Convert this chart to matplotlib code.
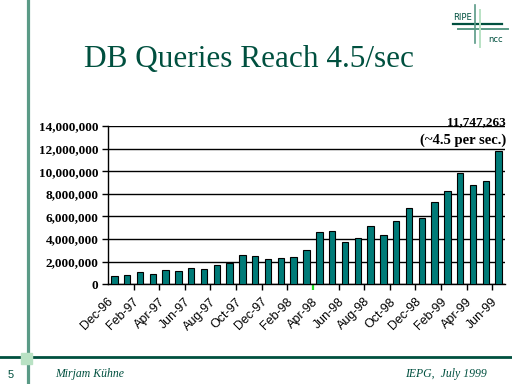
import matplotlib
matplotlib.use("Agg")
import matplotlib.pyplot as plt
import matplotlib.transforms as mtransforms
import numpy as np
from matplotlib.ticker import FuncFormatter, FixedLocator

months = ["Dec-96", "Jan-97", "Feb-97", "Mar-97", "Apr-97", "May-97", "Jun-97", "Jul-97",
          "Aug-97", "Sep-97", "Oct-97", "Nov-97", "Dec-97", "Jan-98", "Feb-98", "Mar-98",
          "Apr-98", "May-98", "Jun-98", "Jul-98", "Aug-98", "Sep-98", "Oct-98", "Nov-98",
          "Dec-98", "Jan-99", "Feb-99", "Mar-99", "Apr-99", "May-99", "Jun-99"]
queries = [730000, 820000, 1060000, 910000, 1240000, 1180000, 1440000, 1350000,
           1710000, 1880000, 2570000, 2500000, 2200000, 2290000, 2410000, 3000000,
           4590000, 4680000, 3710000, 4090000, 5120000, 4320000, 5560000, 6710000,
           5820000, 7240000, 8240000, 9880000, 8740000, 9180000, 11747263]
yticks = [0, 2000000, 4000000, 6000000, 8000000, 10000000, 12000000, 14000000]

title = "DB Queries Reach 4.5/sec"
note1 = "11,747,263"
note2 = "(~4.5 per sec.)"

DARK = "#00503F"
MID = "#5A9A86"
LIGHT = "#B9E2C4"
BAR = "#007B78"

fig = plt.figure(figsize=(5.12, 3.84), dpi=100)
W, H = 512, 384

def fx(x):
    return x / W

def fy(y):
    return 1 - y / H

# slide decorations
fig.add_artist(plt.Line2D([fx(28.4), fx(28.4)], [0, 1], color=MID, lw=2.3, transform=fig.transFigure))
fig.add_artist(plt.Line2D([0, 1], [fy(357.3), fy(357.3)], color=DARK, lw=2.0, transform=fig.transFigure))
fig.add_artist(plt.Rectangle((fx(21), fy(364)), 11 / W, 11 / H, color=LIGHT, transform=fig.transFigure, zorder=5))

# logo
fig.add_artist(plt.Line2D([fx(453), fx(502)], [fy(24.3), fy(24.3)], color=DARK, lw=1.6, transform=fig.transFigure))
fig.add_artist(plt.Line2D([fx(458), fx(508)], [fy(29.2), fy(29.2)], color=MID, lw=1.4, transform=fig.transFigure))
fig.add_artist(plt.Line2D([fx(475), fx(475)], [fy(5), fy(43)], color=MID, lw=1.2, transform=fig.transFigure))
fig.add_artist(plt.Line2D([fx(480.2), fx(480.2)], [fy(10), fy(47)], color=LIGHT, lw=1.4, transform=fig.transFigure))
fig.text(fx(453), fy(19.5), "RIPE", fontsize=6, color=DARK, family="DejaVu Sans", va="baseline", ha="left")
fig.text(fx(488), fy(41.5), "ncc", fontsize=6, color=DARK, family="DejaVu Sans", va="baseline", ha="left")

# title
fig.text(fx(249.5), fy(67), title, fontsize=22.5, color=DARK, family="Liberation Serif",
         ha="center", va="baseline")

# footer
fig.text(fx(8), fy(377.5), "5", fontsize=8, color=DARK, family="Liberation Sans", ha="left", va="baseline")
fig.text(fx(55), fy(377.5), "Mirjam Kühne", fontsize=8.5, color=DARK, family="Liberation Serif",
         style="italic", ha="left", va="baseline")
fig.text(fx(487), fy(377.5), "IEPG,  July 1999", fontsize=8.5, color=DARK, family="Liberation Serif",
         style="italic", ha="right", va="baseline")

# chart
ax = fig.add_axes([fx(108), fy(284.3), (505 - 108) / W, (284.3 - 126) / H])
x = np.arange(len(months))
ax.bar(x, queries, width=0.5, color=BAR, edgecolor="black", linewidth=0.8, zorder=3)
ax.set_xlim(-0.5, len(months) - 0.5)
ax.set_ylim(0, 14000000)
ax.set_yticks(yticks)
ax.yaxis.set_major_formatter(FuncFormatter(lambda v, p: f"{int(v):,}"))
for lbl in ax.get_yticklabels():
    lbl.set_family("Liberation Serif")
    lbl.set_fontweight("bold")
    lbl.set_fontsize(9.5)
ax.yaxis.grid(True, color="black", lw=1.0, zorder=1)
ax.set_axisbelow(True)
ax.tick_params(axis="y", direction="out", length=4, width=1, pad=3, color="black")

ax.set_xticks(x[::2])
ax.set_xticklabels(months[::2], rotation=45, ha="right", rotation_mode="anchor",
                   fontsize=9, family="Liberation Sans")
ax.tick_params(axis="x", which="major", length=0, pad=6)
shift = mtransforms.ScaledTranslation(-7 / 100, -3 / 100, fig.dpi_scale_trans)
for lbl in ax.get_xticklabels():
    lbl.set_transform(lbl.get_transform() + shift)
ax.xaxis.set_minor_locator(FixedLocator(np.arange(1.5, len(months) - 0.5, 2)))
ax.tick_params(axis="x", which="minor", direction="out", length=4, width=1, color="black")
minor = ax.xaxis.get_minor_ticks()
minor[7].tick1line.set_markeredgecolor("#22DD22")
minor[7].tick1line.set_color("#22DD22")
minor[7].tick1line.set_markeredgewidth(1.6)

for s in ["top", "right"]:
    ax.spines[s].set_visible(False)
ax.spines["left"].set_linewidth(1.0)
ax.spines["bottom"].set_linewidth(1.0)

fig.text(fx(506), fy(125), note1, fontsize=9.5, fontweight="bold", family="Liberation Serif",
         ha="right", va="baseline")
fig.text(fx(506), fy(144), note2, fontsize=10.5, fontweight="bold", family="Liberation Serif",
         ha="right", va="baseline")

fig.savefig("out.png", dpi=100, facecolor="white")
